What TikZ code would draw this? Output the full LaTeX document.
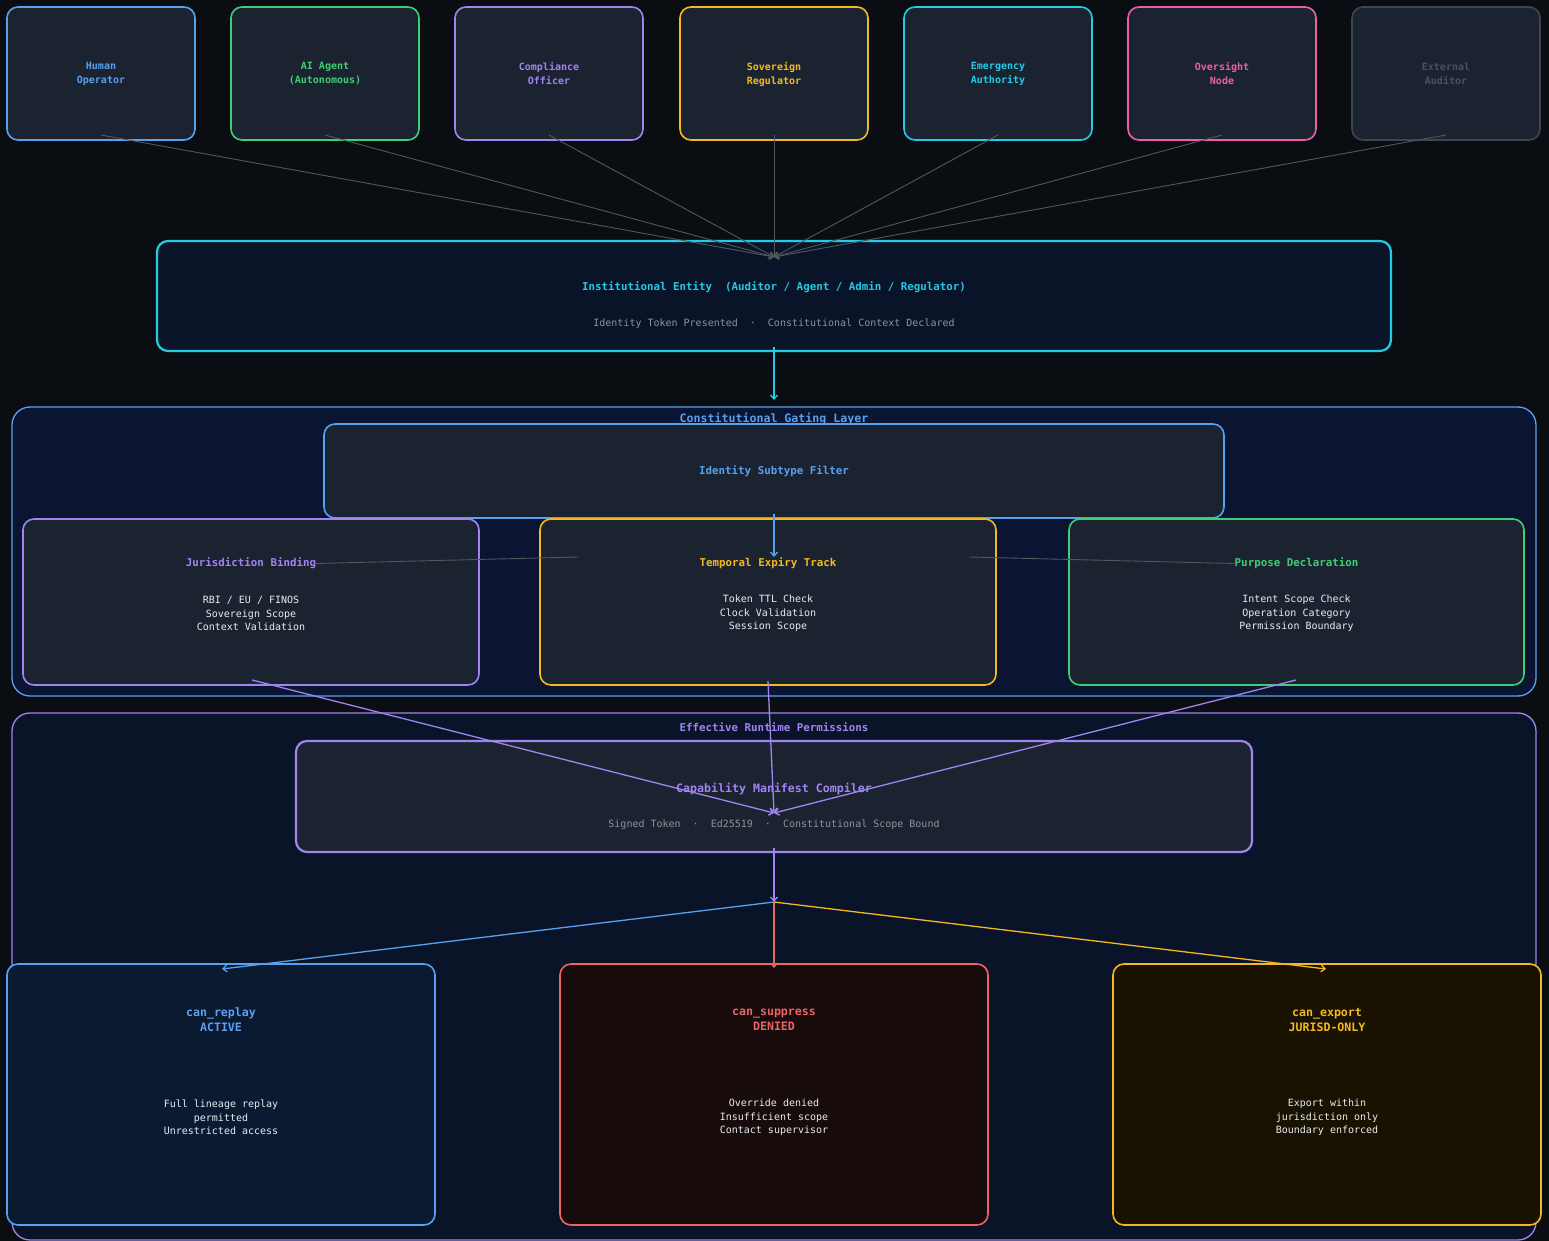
\documentclass[tikz,border=0pt]{standalone}
\usepackage{fontspec}
\setmonofont{DejaVu Sans Mono}
\usetikzlibrary{arrows.meta}
\definecolor{bg}{HTML}{0A0E13}
\definecolor{card}{HTML}{1B2331}
\definecolor{navyA}{HTML}{0B1430}
\definecolor{navyB}{HTML}{0A1428}
\definecolor{navyC}{HTML}{0A1A30}
\definecolor{redfill}{HTML}{180B0B}
\definecolor{ambfill}{HTML}{1A1200}
\definecolor{cBlue}{HTML}{58A0F0}
\definecolor{cGreen}{HTML}{3ECF74}
\definecolor{cPurple}{HTML}{A084F0}
\definecolor{cAmber}{HTML}{F5B820}
\definecolor{cCyan}{HTML}{22CBE6}
\definecolor{cPink}{HTML}{EC5FA8}
\definecolor{cGray}{HTML}{3F4650}
\definecolor{cGrayText}{HTML}{4A525E}
\definecolor{cRed}{HTML}{EC6464}
\definecolor{txtW}{HTML}{E6EDF3}
\definecolor{txtG}{HTML}{8B949E}
\definecolor{conn}{HTML}{50575F}
\tikzset{
  card/.style={draw=#1, fill=card, rounded corners=11pt, line width=1.6pt, inner sep=0pt},
  panel/.style={draw=#1, rounded corners=18pt, line width=1.3pt, inner sep=0pt},
  ttl/.style={text=#1, font=\ttfamily\bfseries\fontsize{10}{14}\selectfont, align=center, inner sep=0pt},
  ttlL/.style={text=#1, font=\ttfamily\bfseries\fontsize{10.8}{15}\selectfont, align=center, inner sep=0pt},
  ttlXL/.style={text=#1, font=\ttfamily\bfseries\fontsize{11.6}{15}\selectfont, align=center, inner sep=0pt},
  body/.style={text=txtW, font=\ttfamily\fontsize{10}{13.5}\selectfont, align=center, inner sep=0pt},
  sub/.style={text=txtG, font=\ttfamily\fontsize{10}{13.5}\selectfont, align=center, inner sep=0pt},
  tip/.style={-{Straight Barb[length=4pt,width=7pt]}},
  gconn/.style={draw=conn, line width=0.9pt},
  cconn/.style={draw=#1, line width=1.3pt, tip},
}
\begin{document}
\begin{tikzpicture}[x=1pt,y=-1pt]
\fill[bg] (0,0) rectangle (1549,1241);
\useasboundingbox (0,0) rectangle (1549,1241);

% ---- top row
\foreach \nm/\cx/\col/\txt in {
  hum/101/cBlue/{Human\\Operator},
  ai/325/cGreen/{AI Agent\\(Autonomous)},
  comp/549/cPurple/{Compliance\\Officer},
  sov/774/cAmber/{Sovereign\\Regulator},
  emer/998/cCyan/{Emergency\\Authority},
  over/1222/cPink/{Oversight\\Node}}{
  \node[card=\col, minimum width=188pt, minimum height=133pt] (\nm) at (\cx,73.5) {};
  \node[ttl=\col] (\nm-t) at (\cx,74) {\txt};
  \coordinate (\nm-s) at (\cx,135);
}
\node[card=cGray, minimum width=188pt, minimum height=133pt] (ext) at (1446,73.5) {};
\node[ttl=cGrayText] (ext-t) at (1446,74) {External\\Auditor};
\coordinate (ext-s) at (1446,135);

% ---- institutional entity
\node[draw=cCyan, fill=navyB, rounded corners=11pt, line width=2.2pt, minimum width=1234pt, minimum height=110pt] (inst) at (774,296) {};
\node[ttlL=cCyan] (inst-t) at (774,287.5) {Institutional Entity\ \ (Auditor / Agent / Admin / Regulator)};
\node[sub] (inst-s) at (774,324) {Identity Token Presented\ \ ·\ \ Constitutional Context Declared};
\coordinate (instIn) at (774,257);

\foreach \nm in {hum,ai,comp,sov,emer,over,ext}{
  \draw[gconn, tip] (\nm-s) -- (instIn);
}

% ---- gating layer
\node[panel=cBlue, fill=navyA, minimum width=1524pt, minimum height=289pt] (gate) at (774,551.5) {};
\node[ttlXL=cBlue] (gate-t) at (774,419) {Constitutional Gating Layer};
\coordinate (instOut) at (774,347);
\coordinate (gateIn) at (774,400);
\draw[cconn=cCyan] (instOut) -- (gateIn);

\node[card=cBlue, minimum width=900pt, minimum height=94pt] (isf) at (774,471) {};
\node[ttlL=cBlue] (isf-t) at (774,471.5) {Identity Subtype Filter};

\node[card=cPurple, minimum width=456pt, minimum height=166pt] (jur) at (251,602) {};
\node[ttlL=cPurple] (jur-t) at (251,563.5) {Jurisdiction Binding};
\node[body] (jur-b) at (251,613.5) {RBI / EU / FINOS\\Sovereign Scope\\Context Validation};

\node[card=cAmber, minimum width=456pt, minimum height=166pt] (tmp) at (768,602) {};
\node[ttlL=cAmber] (tmp-t) at (768,563.5) {Temporal Expiry Track};
\node[body] (tmp-b) at (768,613.5) {Token TTL Check\\Clock Validation\\Session Scope};

\node[card=cGreen, minimum width=455pt, minimum height=166pt] (pur) at (1296.5,602) {};
\node[ttlL=cGreen] (pur-t) at (1296.5,563.5) {Purpose Declaration};
\node[body] (pur-b) at (1296.5,613.5) {Intent Scope Check\\Operation Category\\Permission Boundary};

\coordinate (isfOut) at (774,514);
\coordinate (tmpIn) at (774,557);
\draw[cconn=cBlue] (isfOut) -- (tmpIn);
\coordinate (jL) at (578,557);
\coordinate (pL) at (969,557);
\draw[gconn] (jL) -- (jur-t.east);
\draw[gconn] (pL) -- (pur-t.west);

% ---- effective runtime permissions
\node[panel=cPurple, fill=navyB, minimum width=1524pt, minimum height=527pt] (erp) at (774,976.5) {};
\node[ttlL=cPurple] (erp-t) at (774,727.5) {Effective Runtime Permissions};

\node[draw=cPurple, fill=card, rounded corners=11pt, line width=2.2pt, minimum width=956pt, minimum height=111pt] (cmc) at (774,796.5) {};
\node[ttlXL=cPurple] (cmc-t) at (774,789) {Capability Manifest Compiler};
\node[sub] (cmc-s) at (774,825) {Signed Token\ \ ·\ \ Ed25519\ \ ·\ \ Constitutional Scope Bound};

\coordinate (jOut) at (252,680);
\coordinate (tOut) at (768,681);
\coordinate (pOut) at (1296,680);
\coordinate (cmcIn) at (774,813);
\draw[cconn=cPurple] (jOut) -- (cmcIn);
\draw[cconn=cPurple] (tOut) -- (cmcIn);
\draw[cconn=cPurple] (pOut) -- (cmcIn);

\coordinate (cmcOut) at (774,848);
\coordinate (split) at (774,902);
\draw[cconn=cPurple] (cmcOut) -- (split);

% ---- outcomes
\node[draw=cBlue, fill=navyC, rounded corners=11pt, line width=1.6pt, minimum width=428pt, minimum height=261pt] (rep) at (221,1094.5) {};
\node[ttlXL=cBlue] (rep-t) at (221,1019.5) {can\_replay\\ACTIVE};
\node[body] (rep-b) at (221,1117.5) {Full lineage replay\\permitted\\Unrestricted access};

\node[draw=cRed, fill=redfill, rounded corners=11pt, line width=1.6pt, minimum width=428pt, minimum height=261pt] (sup) at (774,1094.5) {};
\node[ttlXL=cRed] (sup-t) at (774,1019.5) {can\_suppress\\DENIED};
\node[body] (sup-b) at (774,1117.5) {Override denied\\Insufficient scope\\Contact supervisor};

\node[draw=cAmber, fill=ambfill, rounded corners=11pt, line width=1.6pt, minimum width=428pt, minimum height=261pt] (exp) at (1327,1094.5) {};
\node[ttlXL=cAmber] (exp-t) at (1327,1019.5) {can\_export\\JURISD-ONLY};
\node[body] (exp-b) at (1327,1117.5) {Export within\\jurisdiction only\\Boundary enforced};

\coordinate (repIn) at (222,969);
\coordinate (supIn) at (774,968);
\coordinate (expIn) at (1326,969);
\draw[cconn=cBlue] (split) -- (repIn);
\draw[cconn=cRed] (split) -- (supIn);
\draw[cconn=cAmber] (split) -- (expIn);
\end{tikzpicture}
\end{document}
